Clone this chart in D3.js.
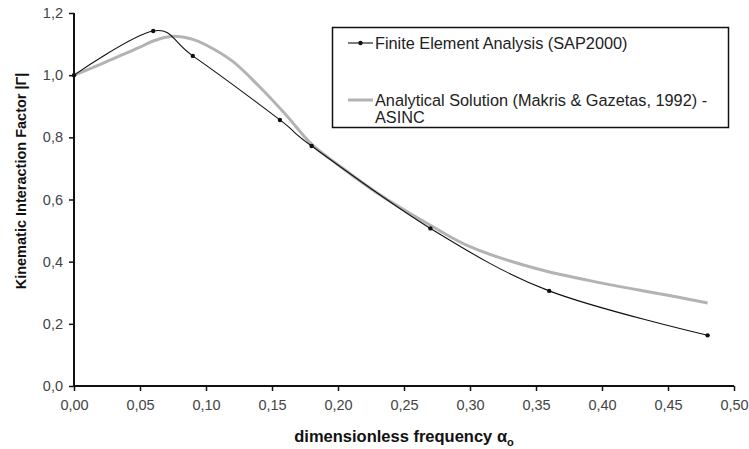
<!DOCTYPE html>
<html>
<head>
<meta charset="utf-8">
<script src="https://cdn.jsdelivr.net/npm/d3@7"></script>
<style>
  html, body { margin: 0; padding: 0; background: #fff; }
  svg { display: block; font-family: "Liberation Sans", Arial, sans-serif; }
</style>
</head>
<body>
<svg id="chart" width="749" height="449"></svg>
<script>
// ---- data ----
const feX = [0, 0.06, 0.09, 0.156, 0.18, 0.27, 0.36, 0.48];
const feY = [1.0, 1.142, 1.062, 0.856, 0.772, 0.507, 0.306, 0.163];

const anX = [0, 0.02, 0.04, 0.05, 0.06, 0.075, 0.09, 0.10, 0.12, 0.14, 0.16, 0.18, 0.20, 0.23, 0.27, 0.30, 0.35, 0.40, 0.45, 0.48];
const anY = [1.0, 1.035, 1.072, 1.09, 1.11, 1.125, 1.115, 1.097, 1.045, 0.965, 0.875, 0.778, 0.712, 0.62, 0.517, 0.448, 0.378, 0.331, 0.292, 0.267];

const xTicks = [0, 0.05, 0.10, 0.15, 0.20, 0.25, 0.30, 0.35, 0.40, 0.45, 0.50];
const yTicks = [0, 0.2, 0.4, 0.6, 0.8, 1.0, 1.2];

const seriesNames = ["Finite Element Analysis (SAP2000)", "Analytical Solution (Makris & Gazetas, 1992) -", "ASINC"];
const xTitle = "dimensionless frequency α";
const xTitleSub = "o";
const yTitle = "Kinematic Interaction Factor |Γ|";

// ---- layout ----
const svg = d3.select("#chart");
const mLeft = 74, mRight = 734, mTop = 13, mBottom = 386;

const x = d3.scaleLinear().domain([0, 0.5]).range([mLeft, mRight]);
const y = d3.scaleLinear().domain([0, 1.2]).range([mBottom, mTop]);

const comma = f => d => f(d).replace(".", ",");

// axes
const xAxis = d3.axisBottom(x).tickValues(xTicks).tickFormat(comma(d3.format(".2f"))).tickSize(5).tickPadding(9);
const yAxis = d3.axisLeft(y).tickValues(yTicks).tickFormat(comma(d3.format(".1f"))).tickSize(5).tickPadding(6);

const gx = svg.append("g").attr("transform", `translate(0,${mBottom})`).call(xAxis);
const gy = svg.append("g").attr("transform", `translate(${mLeft},0)`).call(yAxis);

[gx, gy].forEach(g => {
  g.select(".domain").attr("stroke", "#111").attr("stroke-width", 2);
  g.selectAll(".tick line").attr("stroke", "#111").attr("stroke-width", 1.5);
  g.selectAll(".tick text").attr("fill", "#444").attr("font-size", 14.5)
    .attr("font-family", "'Liberation Sans', Arial, sans-serif");
});
gx.select(".domain").attr("d", `M${mLeft},0H${mRight}`);
gy.select(".domain").attr("d", `M0,${mBottom}V${mTop}`);

// lines
const anData = anX.map((v, i) => [v, anY[i]]);
const feData = feX.map((v, i) => [v, feY[i]]);

svg.append("path")
  .datum(anData)
  .attr("fill", "none")
  .attr("stroke", "#b3b3b3")
  .attr("stroke-width", 3)
  .attr("d", d3.line().x(d => x(d[0])).y(d => y(d[1])).curve(d3.curveCatmullRom.alpha(0.5)));

svg.append("path")
  .datum(feData)
  .attr("fill", "none")
  .attr("stroke", "#111")
  .attr("stroke-width", 1.1)
  .attr("d", d3.line().x(d => x(d[0])).y(d => y(d[1])).curve(d3.curveCardinal.tension(0)));

svg.append("g").selectAll("circle")
  .data(feData)
  .join("circle")
  .attr("cx", d => x(d[0]))
  .attr("cy", d => y(d[1]))
  .attr("r", 2.2)
  .attr("fill", "#111");

// axis titles
svg.append("text")
  .attr("x", (mLeft + mRight) / 2)
  .attr("y", 442)
  .attr("text-anchor", "middle")
  .attr("font-weight", "bold")
  .attr("font-size", 16.5)
  .attr("fill", "#111")
  .text(xTitle)
  .append("tspan")
  .attr("dy", 4)
  .attr("font-size", 11)
  .text(xTitleSub);

svg.append("text")
  .attr("transform", `translate(26,181) rotate(-90)`)
  .attr("text-anchor", "middle")
  .attr("font-weight", "bold")
  .attr("font-size", 14.5)
  .attr("fill", "#111")
  .text(yTitle);

// legend
const lg = svg.append("g");
lg.append("rect")
  .attr("x", 332.5).attr("y", 27.5)
  .attr("width", 396).attr("height", 100)
  .attr("fill", "#fff").attr("stroke", "#111").attr("stroke-width", 1.5);

lg.append("line").attr("x1", 348).attr("x2", 373).attr("y1", 43).attr("y2", 43)
  .attr("stroke", "#111").attr("stroke-width", 1.1);
lg.append("circle").attr("cx", 360.5).attr("cy", 43).attr("r", 2.2).attr("fill", "#111");
lg.append("text").attr("x", 375).attr("y", 49).attr("font-size", 16.3).attr("fill", "#222")
  .text(seriesNames[0]);

lg.append("line").attr("x1", 348).attr("x2", 373).attr("y1", 100).attr("y2", 100)
  .attr("stroke", "#b3b3b3").attr("stroke-width", 3);
lg.append("text").attr("x", 375).attr("y", 106).attr("font-size", 16.3).attr("fill", "#222")
  .text(seriesNames[1]);
lg.append("text").attr("x", 375).attr("y", 123).attr("font-size", 16.3).attr("fill", "#222")
  .text(seriesNames[2]);
</script>
</body>
</html>
